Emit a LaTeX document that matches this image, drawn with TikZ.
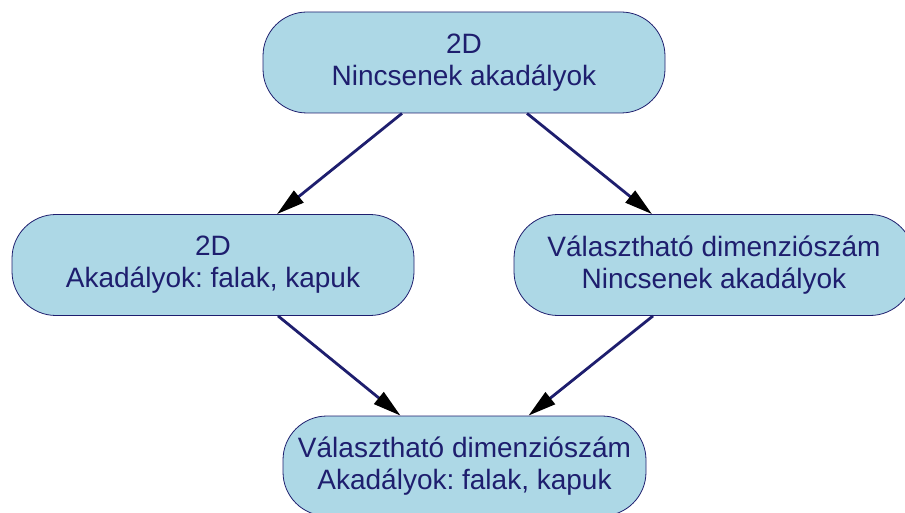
\documentclass[tikz,border=0pt]{standalone}
\usepackage{fontspec}
\setmainfont{Liberation Sans}
\usepackage{xcolor}
\usepackage{tikz}
\usetikzlibrary{positioning,arrows.meta}
\frenchspacing

\definecolor{sotetkek}{RGB}{30,30,110}
\definecolor{vilagoskek}{RGB}{173,216,230}

\begin{document}
\begin{tikzpicture}[
					x=1pt, y=-1pt,
					% --- doboz stílus ---
					doboz/.style={
						rectangle, rounded corners=44pt,
						draw=sotetkek, fill=vilagoskek, line width=0.8pt,
						text=sotetkek, align=center, inner sep=0pt,
						minimum height=101pt,
						font=\fontsize{28}{32}\selectfont\frenchspacing
					},
					% --- nyíl stílus ---
					nyil/.style={
						draw=sotetkek, line width=2.8pt,
						-{Triangle[length=28pt,width=15pt,color=black]}
					}
					]
					\useasboundingbox (0,0) rectangle (905,513);
					
					% Csúcs
					\node[doboz, minimum width=402pt] (felso) at (464,62.5) {2D\\Nincsenek akadályok};
					% Középső szint
					\node[doboz, minimum width=402pt] (bal) at (213,265) {2D\\Akadályok: falak, kapuk};
					\node[doboz, minimum width=400pt] (jobb) at (714,265) {Választható dimenziószám\\Nincsenek akadályok};
					% Alsó
					\node[doboz, minimum width=363pt, minimum height=100pt] (also) at (464.5,466) {Választható dimenziószám\\Akadályok: falak, kapuk};
					
					% Nyilak
					\draw[nyil] ([xshift=-62pt]felso.south) -- ([xshift=64pt]bal.north);
					\draw[nyil] ([xshift=63pt]felso.south) -- ([xshift=-62pt]jobb.north);
					\draw[nyil] ([xshift=65pt]bal.south) -- ([xshift=-64pt]also.north);
					\draw[nyil] ([xshift=-61pt]jobb.south) -- ([xshift=64pt]also.north);
				\end{tikzpicture}
\end{document}
